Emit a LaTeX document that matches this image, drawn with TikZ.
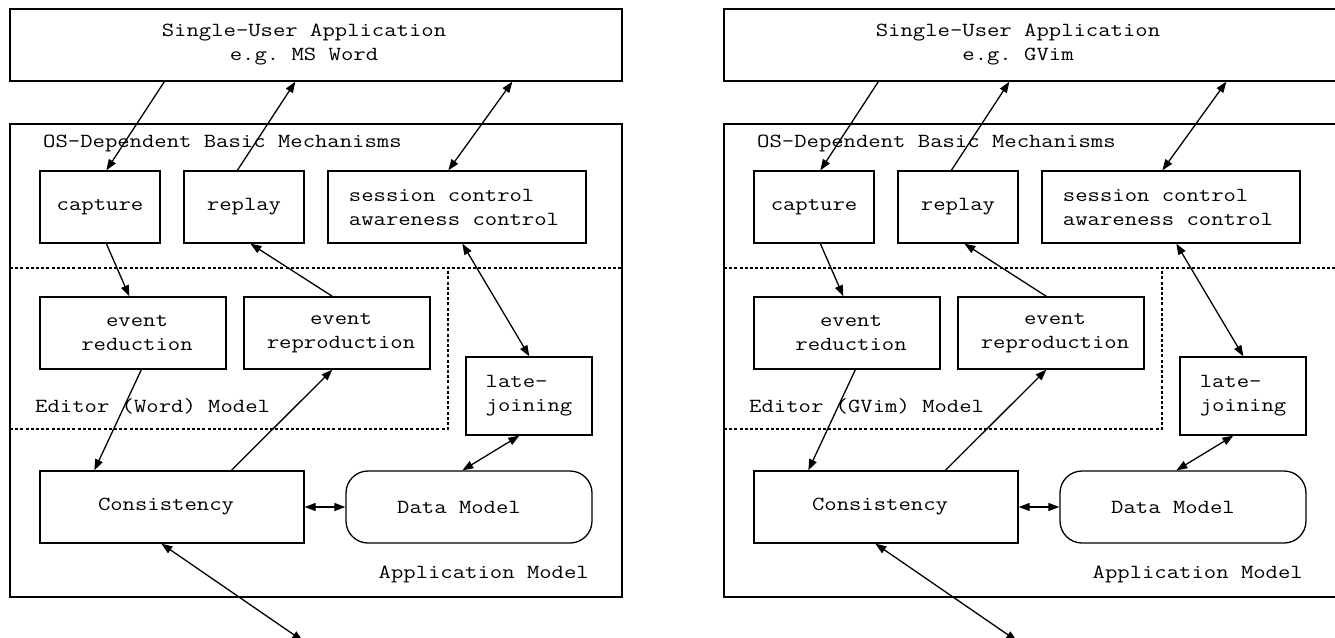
\documentclass[tikz,border=0pt]{standalone}
\usepackage{fontspec}
\setmonofont{Latin Modern Mono}[FakeStretch=1.2]
\usetikzlibrary{arrows.meta,calc}

\tikzset{
  every node/.style={font=\fontsize{20}{24}\selectfont\ttfamily},
  blk/.style={draw, line width=1.3pt, inner sep=0pt, align=center},
  lbl/.style={inner sep=0pt},
  lnk/.style={line width=1.3pt, -{Triangle[length=11pt,width=8pt]}},
  lnkb/.style={line width=1.3pt, {Triangle[length=11pt,width=8pt]}-{Triangle[length=11pt,width=8pt]}},
  sep/.style={line width=1.1pt, dash pattern=on 3pt off 2.2pt},
}

% One architecture panel: #1 name prefix, #2 horizontal offset,
% #3 application name, #4 editor name
\newcommand\archpanel[4]{%
  \begin{scope}[xshift=#2pt]
    % application on top
    \node[blk, minimum width=612pt, minimum height=72pt] (#1top) at (316,45)
      {Single-User Application\hspace*{24pt}\\e.g. #3\hspace*{24pt}};
    % application model frame
    \node[blk, minimum width=612pt, minimum height=473pt] (#1app) at (316,360.5) {};
    \node[lbl, anchor=base west] (#1os) at (43,147) {OS-Dependent Basic Mechanisms};
    \node[lbl, anchor=base east] (#1am) at (589,578) {Application Model};
    % layer borders
    \draw[sep] (10,268) -- (622,268);
    \draw[sep] (10,429) -- (448,429) -- (448,268);
    \node[lbl, anchor=base west] (#1ed) at (35,412) {Editor (#4) Model};
    % basic mechanisms
    \node[blk, minimum width=120pt, minimum height=72pt] (#1cap) at (100,207) {capture};
    \node[blk, minimum width=120pt, minimum height=72pt] (#1rep) at (244,207) {replay};
    \node[blk, minimum width=258pt, minimum height=72pt, align=left] (#1ses) at (457,207)
      {session control\\awareness control\hspace*{6pt}};
    % editor model
    \node[blk, minimum width=186pt, minimum height=72pt] (#1red) at (133,333)
      {\hspace*{8pt}event\\\hspace*{8pt}reduction};
    \node[blk, minimum width=186pt, minimum height=72pt] (#1rpr) at (337,333)
      {\hspace*{8pt}event\\\hspace*{8pt}reproduction};
    \node[blk, minimum width=126pt, minimum height=78pt, align=left] (#1late) at (529,396)
      {late-\\joining};
    % application model
    \node[blk, minimum width=264pt, minimum height=72pt] (#1cons) at (172,507)
      {Consistency\hspace*{12pt}};
    \node[blk, minimum width=246pt, minimum height=72pt, rounded corners=22pt] (#1data) at (469,507)
      {Data Model\hspace*{20pt}};
    \coordinate (#1out) at (303,641);
    % connectors
    \draw[lnk] ([xshift=155pt]#1top.south west) -- ([xshift=67pt]#1cap.north west);
    \draw[lnk] ([xshift=54pt]#1rep.north west) -- ([xshift=286pt]#1top.south west);
    \draw[lnkb] ([xshift=121pt]#1ses.north west) -- ([xshift=503pt]#1top.south west);
    \draw[lnk] ([xshift=67pt]#1cap.south west) -- ([xshift=90pt]#1red.north west);
    \draw[lnk] ([xshift=89pt]#1rpr.north west) -- ([xshift=67pt]#1rep.south west);
    \draw[lnkb] ([xshift=135pt]#1ses.south west) -- ([xshift=64pt]#1late.north west);
    \draw[lnkb] ([xshift=54pt]#1late.south west) -- ([xshift=117pt]#1data.north west);
    \draw[lnkb] (#1cons.east) -- (#1data.west);
    \draw[lnk] ([xshift=102pt]#1red.south west) -- ([xshift=55pt]#1cons.north west);
    \draw[lnk] ([xshift=192pt]#1cons.north west) -- ([xshift=89pt]#1rpr.south west);
    \draw[lnkb] ([xshift=122pt]#1cons.south west) -- (#1out);
  \end{scope}%
}

\begin{document}
\begin{tikzpicture}[x=1pt, y=-1pt]
  \useasboundingbox (0,0) rectangle (1335,637);
  \clip (0,0) rectangle (1335,637);
  \fill[white] (0,0) rectangle (1335,637);
  \archpanel{w}{0}{MS Word}{Word}
  \archpanel{g}{714}{GVim}{GVim}
\end{tikzpicture}
\end{document}
